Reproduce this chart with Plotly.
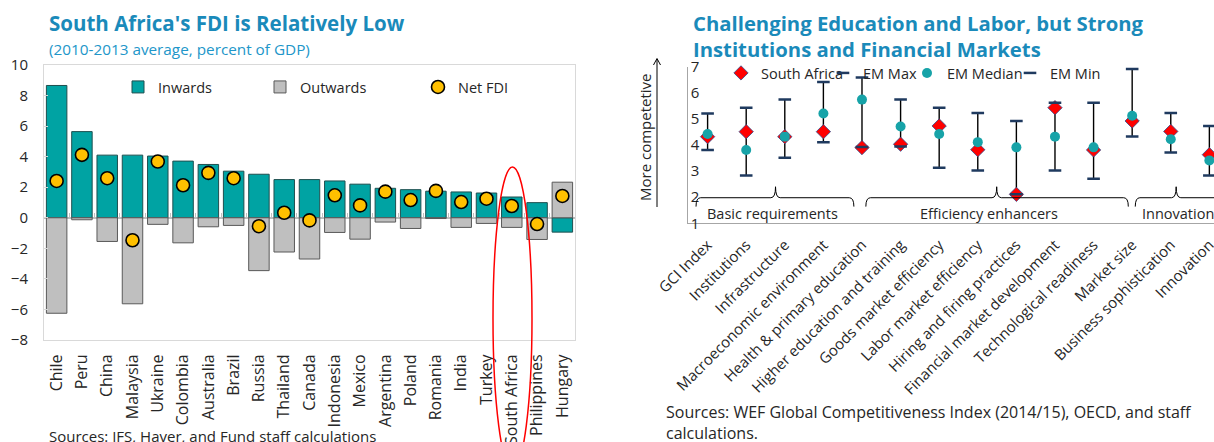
import plotly.graph_objects as go

W, H = 1214, 442
FONT = "Open Sans"
TXT = "#262626"
TITLE_BLUE = "#1A8ABA"

# ---------------- Left chart data ----------------
countries = ["Chile", "Peru", "China", "Malaysia", "Ukraine", "Colombia", "Australia",
             "Brazil", "Russia", "Thailand", "Canada", "Indonesia", "Mexico", "Argentina",
             "Poland", "Romania", "India", "Turkey", "South Africa", "Philippines", "Hungary"]
inwards = [8.66, 5.64, 4.10, 4.10, 4.04, 3.71, 3.49, 3.05, 2.85, 2.50, 2.50,
           2.41, 2.20, 1.93, 1.84, 1.74, 1.69, 1.62, 1.36, 0.99, -0.94]
outwards = [-6.25, -0.13, -1.55, -5.63, -0.43, -1.64, -0.59, -0.50, -3.46, -2.24, -2.70,
            -0.96, -1.40, -0.28, -0.70, -0.05, -0.63, -0.37, -0.63, -1.42, 2.33]
net_fdi = [2.41, 4.12, 2.59, -1.47, 3.68, 2.13, 2.94, 2.59, -0.55, 0.33, -0.17,
           1.47, 0.81, 1.71, 1.16, 1.76, 1.03, 1.25, 0.77, -0.41, 1.43]
left_ticks = [-8, -6, -4, -2, 0, 2, 4, 6, 8, 10]

# ---------------- Right chart data ----------------
pillars = ["GCI Index", "Institutions", "Infrastructure", "Macroeconomic environment",
           "Health & primary education", "Higher education and training",
           "Goods market efficiency", "Labor market efficiency", "Hiring and firing practices",
           "Financial market development", "Technological readiness", "Market size",
           "Business sophistication", "Innovation"]
south_africa = [4.32, 4.51, 4.32, 4.51, 3.90, 4.03, 4.73, 3.82, 2.11, 5.43, 3.81, 4.92, 4.52, 3.63]
em_max = [5.21, 5.43, 5.74, 6.41, 6.59, 5.74, 5.43, 5.23, 4.92, 5.62, 5.62, 6.91, 5.23, 4.73]
em_median = [4.42, 3.81, 4.32, 5.21, 5.74, 4.71, 4.42, 4.11, 3.91, 4.32, 3.91, 5.12, 4.22, 3.41]
em_min = [3.81, 2.83, 3.51, 4.11, 3.92, 3.94, 3.13, 3.02, 2.11, 3.02, 2.71, 4.33, 3.71, 2.83]
right_ticks = [1, 2, 3, 4, 5, 6, 7]
groups = ["Basic requirements", "Efficiency enhancers", "Innovation"]
group_start = [-0.30, 4.10, 11.08]
group_end = [3.79, 10.90, 14.2]
group_tip = [1.76, 7.49, 12.14]
group_label_x = [1.68, 7.30, 11.19]


def px(x):
    return x / W


def py(y):
    return 1 - y / H


LEFT_Y0, LEFT_Y1 = 340, 65          # pixel rows of y=-8 and y=10
LEFT_RANGE = [-8, 10]
zero_row = LEFT_Y0 - (0 - LEFT_RANGE[0]) / (LEFT_RANGE[1] - LEFT_RANGE[0]) * (LEFT_Y0 - LEFT_Y1)

fig = go.Figure()

# Left chart traces
fig.add_trace(go.Bar(x=countries, y=inwards, name="Inwards", legend="legend",
                     marker=dict(color="#00A3A3", line=dict(color="#1F4F4F", width=1)),
                     xaxis="x", yaxis="y"))
fig.add_trace(go.Bar(x=countries, y=outwards, name="Outwards", legend="legend2",
                     marker=dict(color="#BFBFBF", line=dict(color="#595959", width=1)),
                     xaxis="x", yaxis="y"))
fig.add_trace(go.Scatter(x=countries, y=net_fdi, name="Net FDI", mode="markers", legend="legend3",
                         marker=dict(color="#FFC000", size=13, line=dict(color="#000000", width=1.6)),
                         xaxis="x3", yaxis="y"))

# Right chart traces
idx = list(range(len(pillars)))
rng_hi = [a - b for a, b in zip(em_max, em_min)]
fig.add_trace(go.Scatter(x=idx, y=em_min, mode="markers", showlegend=False, hoverinfo="skip",
                         marker=dict(size=1, color="rgba(0,0,0,0)"),
                         error_y=dict(type="data", array=rng_hi, arrayminus=[0] * len(idx),
                                      symmetric=False, color="#000000", thickness=1.4, width=0),
                         xaxis="x2", yaxis="y3"))
fig.add_trace(go.Scatter(x=idx, y=south_africa, name="South Africa", mode="markers", legend="legend4",
                         marker=dict(symbol="diamond", color="#FF0000", size=11,
                                     line=dict(color="#2F4A8A", width=0.8)),
                         xaxis="x2", yaxis="y3"))
fig.add_trace(go.Scatter(x=idx, y=em_max, name="EM Max", mode="markers", legend="legend5",
                         marker=dict(symbol="line-ew", size=9, color="#1F3A5F",
                                     line=dict(color="#1F3A5F", width=2.5)),
                         xaxis="x2", yaxis="y3"))
fig.add_trace(go.Scatter(x=idx, y=em_median, name="EM Median", mode="markers", legend="legend6",
                         marker=dict(symbol="circle", color="#17A3A8", size=10,
                                     line=dict(width=0)),
                         xaxis="x2", yaxis="y3"))
fig.add_trace(go.Scatter(x=idx, y=em_min, name="EM Min", mode="markers", legend="legend7",
                         marker=dict(symbol="line-ew", size=9, color="#1F3A5F",
                                     line=dict(color="#1F3A5F", width=2.5)),
                         xaxis="x2", yaxis="y3"))

axis_font = dict(family=FONT, size=15, color=TXT)
cat_range = [-0.5, len(countries) - 0.5]

layout = dict(
    width=W, height=H,
    margin=dict(l=0, r=0, t=0, b=0, autoexpand=False),
    paper_bgcolor="white", plot_bgcolor="rgba(0,0,0,0)",
    barmode="relative", bargap=0.19,
    font=dict(family=FONT, color=TXT),
    xaxis=dict(domain=[px(44), px(575)], anchor="y", type="category", range=cat_range,
               tickangle=-90, tickfont=dict(family=FONT, size=16, color=TXT), ticks="",
               showline=True, linecolor="#D9D9D9", linewidth=1, mirror=True, showgrid=False,
               ticklabelstandoff=7, automargin=False),
    # category boundary ticks on the zero line
    xaxis3=dict(overlaying="x", anchor="free", position=py(zero_row), type="category",
                range=cat_range, categoryorder="array", categoryarray=countries,
                tickson="boundaries", ticks="inside", ticklen=5, tickcolor="#BFBFBF",
                tickwidth=1, showticklabels=False, showline=False, showgrid=False,
                zeroline=False, automargin=False),
    yaxis=dict(domain=[py(LEFT_Y0), py(LEFT_Y1)], anchor="x", range=LEFT_RANGE, tickvals=left_ticks,
               tickfont=axis_font, ticks="inside", ticklen=4, tickcolor="#D9D9D9",
               showline=True, linecolor="#D9D9D9", mirror=True, showgrid=False,
               zeroline=True, zerolinecolor="#BFBFBF", zerolinewidth=1.5,
               ticklabelstandoff=12, automargin=False),
    yaxis2=dict(overlaying="y", anchor="x", side="right", range=LEFT_RANGE, tickvals=left_ticks,
                tickfont=axis_font, ticks="inside", ticklen=4, tickcolor="#D9D9D9",
                showline=False, showgrid=False, zeroline=False,
                ticklabelstandoff=18, automargin=False),
    xaxis2=dict(domain=[px(688.3), 1.0], anchor="y3", range=[-0.5, 13.12],
                tickvals=idx, ticktext=pillars, tickangle=-45,
                tickfont=dict(family=FONT, size=15, color=TXT), ticks="",
                showline=True, linecolor="#A6A6A6", linewidth=1, showgrid=False,
                zeroline=False, automargin=False, ticklabelstandoff=6,
                ticklabeloverflow="allow"),
    yaxis3=dict(domain=[py(223.3), py(66.7)], anchor="x2", range=[1, 7], tickvals=right_ticks,
                tickfont=axis_font, ticks="", showline=True, linecolor="#A6A6A6",
                showgrid=False, zeroline=False, ticklabelstandoff=-15, automargin=False),
)

# legends, one per item
legend_pos = {
    "legend": (118, 87), "legend2": (260, 87), "legend3": (418, 87),
    "legend4": (721, 73), "legend5": (823, 73), "legend6": (907, 73), "legend7": (1010, 73),
}
for name, (lx, ly) in legend_pos.items():
    layout[name] = dict(x=px(lx), y=py(ly), xanchor="left", yanchor="middle",
                        orientation="h", bgcolor="rgba(0,0,0,0)", borderwidth=0,
                        font=dict(family=FONT, size=14.5, color=TXT), itemwidth=30)

fig.update_layout(**layout)

annotations = [
    dict(text="<b>South Africa's FDI is Relatively Low</b>", x=px(48), y=py(23),
         font=dict(family=FONT, size=20.5, color=TITLE_BLUE)),
    dict(text="(2010-2013 average, percent of GDP)", x=px(48), y=py(49),
         font=dict(family=FONT, size=15.3, color="#2196C9")),
    dict(text="Sources: IFS, Haver, and Fund staff calculations", x=px(48), y=py(436),
         font=dict(family=FONT, size=15, color=TXT)),
    dict(text="<b>Challenging Education and Labor, but Strong<br>Institutions and Financial Markets</b>",
         x=px(692), y=py(36), align="left",
         font=dict(family=FONT, size=20.3, color=TITLE_BLUE)),
    dict(text="Sources: WEF Global Competitiveness Index (2014/15), OECD, and staff<br>calculations.",
         x=px(665), y=py(422), align="left",
         font=dict(family=FONT, size=16, color=TXT)),
]
for a in annotations:
    a.update(xref="paper", yref="paper", xanchor="left", yanchor="middle", showarrow=False,
             borderpad=0)
    fig.add_annotation(**a)

# y-axis title with arrow for right chart
fig.add_annotation(text="More competetive", xref="paper", yref="paper", x=px(645), y=py(138),
                   textangle=-90, showarrow=False, xanchor="center", yanchor="middle",
                   font=dict(family=FONT, size=15, color=TXT))
fig.add_shape(type="line", xref="paper", yref="paper", x0=px(657), x1=px(657), y0=py(207), y1=py(59),
              line=dict(color="#000000", width=1), layer="above")
fig.add_shape(type="path", xref="paper", yref="paper",
              path=f"M{px(653.5)},{py(65)} L{px(657)},{py(58.5)} L{px(660.5)},{py(65)}",
              line=dict(color="#000000", width=1), layer="above")

# group braces (right chart)
y_line, y_tip, y_end, y_lab = 1.98, 2.40, 1.64, 1.36
for g, s, e, t, lx in zip(groups, group_start, group_end, group_tip, group_label_x):
    r = 0.12
    path = (f"M{s},{y_end} Q{s},{y_line} {s + r},{y_line} L{t - r},{y_line} "
            f"Q{t},{y_line} {t},{y_tip} Q{t},{y_line} {t + r},{y_line} L{e - r},{y_line} "
            f"Q{e},{y_line} {e},{y_end}")
    fig.add_shape(type="path", path=path, xref="x2", yref="y3",
                  line=dict(color="#000000", width=1), layer="above")
    anchor = "left" if g == "Innovation" else "center"
    fig.add_annotation(text=g, x=lx, y=y_lab, xref="x2", yref="y3", showarrow=False,
                       xanchor=anchor, yanchor="middle",
                       font=dict(family=FONT, size=14.5, color=TXT))

# crop of the left chart's right axis labels (as in the original image)
fig.add_shape(type="rect", xref="paper", yref="paper", x0=px(605), x1=px(634), y0=py(360), y1=py(55),
              fillcolor="white", line=dict(width=0), layer="above")

# red ellipse highlighting South Africa
fig.add_shape(type="circle", xref="paper", yref="paper", x0=px(493), x1=px(532), y0=py(470), y1=py(167),
              line=dict(color="#FF0000", width=1.5), layer="above")

fig.write_html("out.html", config={"displayModeBar": False},
               post_script="document.body.style.margin='0px';")
